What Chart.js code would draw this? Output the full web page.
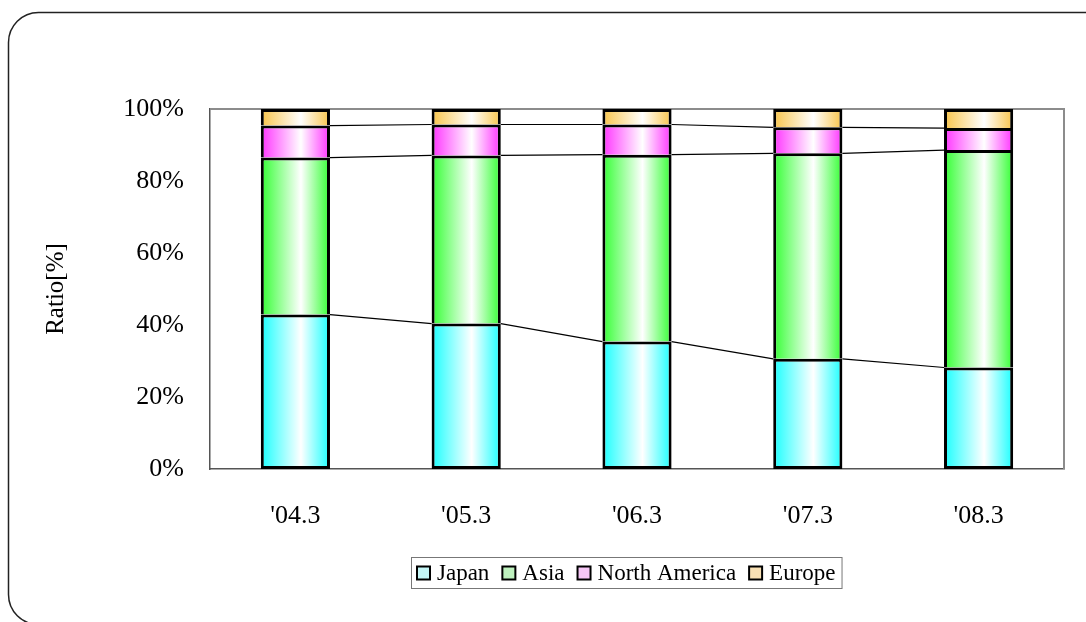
<!DOCTYPE html>
<html>
<head>
<meta charset="utf-8">
<script src="https://cdn.jsdelivr.net/npm/chart.js@4.4.1/dist/chart.umd.min.js"></script>
<style>
  html, body { margin: 0; padding: 0; background: #fff; }
  #wrap { position: relative; width: 1086px; height: 622px; }
</style>
</head>
<body>
<div id="wrap"><canvas id="share-chart"></canvas></div>
<script>
const categories = ["'04.3", "'05.3", "'06.3", "'07.3", "'08.3"];
const japan = [42.9, 40.4, 35.4, 30.6, 28.2];
const asia = [43.6, 46.7, 51.9, 57.1, 60.4];
const northAmerica = [8.9, 8.6, 8.4, 7.2, 6.1];
const europe = [4.6, 4.3, 4.3, 5.1, 5.3];
const yTickValues = [0, 20, 40, 60, 80, 100];

const FONT = '"Liberation Serif", "Times New Roman", serif';
const BAR_PCT = 0.405;

// horizontal gradient: colour at the edges, white just right of centre
function barFill(color) {
    return function(ctx) {
        const x = ctx.chart.scales.x;
        if (!x || ctx.dataIndex === undefined || !x.width) return color;
        const cx = x.getPixelForValue(ctx.dataIndex);
        const half = x.width / categories.length * BAR_PCT / 2;
        const g = ctx.chart.ctx.createLinearGradient(cx - half, 0, cx + half, 0);
        g.addColorStop(0, color);
        g.addColorStop(0.58, '#ffffff');
        g.addColorStop(1, color);
        return g;
    };
}

const legendItems = [
    { label: 'Japan', fill: '#c4f6f6' },
    { label: 'Asia', fill: '#bff2bf' },
    { label: 'North America', fill: '#f6c6f6' },
    { label: 'Europe', fill: '#f8e0b4' },
];

// outer rounded frame
const framePlugin = {
    id: 'frame',
    beforeDraw(chart) {
        const ctx = chart.ctx;
        ctx.save();
        ctx.fillStyle = '#fff';
        ctx.fillRect(0, 0, chart.width, chart.height);
        ctx.strokeStyle = '#222';
        ctx.lineWidth = 1.5;
        ctx.beginPath();
        ctx.roundRect(8.5, 12.5, 1120, 612, 30);
        ctx.stroke();
        ctx.restore();
    },
    beforeDatasetsDraw(chart) {
        const { left, right, top, bottom } = chart.chartArea;
        const ctx = chart.ctx;
        ctx.save();
        ctx.strokeStyle = '#8c8c8c';
        ctx.lineWidth = 2;
        ctx.beginPath();
        ctx.moveTo(left, top);
        ctx.lineTo(right, top);
        ctx.lineTo(right, bottom);
        ctx.stroke();
        ctx.restore();
    }
};

// series lines joining the segment tops of neighbouring bars
const seriesLines = {
    id: 'seriesLines',
    afterDatasetsDraw(chart) {
        const ctx = chart.ctx;
        ctx.save();
        ctx.strokeStyle = '#000';
        ctx.lineWidth = 1.2;
        for (let d = 0; d < 3; d++) {
            const bars = chart.getDatasetMeta(d).data;
            for (let i = 0; i < bars.length - 1; i++) {
                const a = bars[i], b = bars[i + 1];
                ctx.beginPath();
                ctx.moveTo(a.x + a.width / 2, a.y);
                ctx.lineTo(b.x - b.width / 2, b.y);
                ctx.stroke();
            }
        }
        ctx.restore();
    }
};

// boxed legend under the axis
const boxedLegend = {
    id: 'boxedLegend',
    afterDraw(chart) {
        const ctx = chart.ctx;
        const area = chart.chartArea;
        ctx.save();
        ctx.font = '23px ' + FONT;
        const box = 13, gapText = 7, gapItem = 13, padX = 6;
        let total = padX * 2;
        legendItems.forEach((it, i) => {
            total += box + gapText + ctx.measureText(it.label).width + (i < legendItems.length - 1 ? gapItem : 0);
        });
        const top = area.bottom + 88, h = 31;
        const left = Math.round((area.left + area.right) / 2 - 11 - total / 2);
        ctx.strokeStyle = '#777';
        ctx.lineWidth = 1;
        ctx.strokeRect(left + 0.5, top + 0.5, total, h);
        let x = left + padX;
        const cy = top + h / 2 + 0.5;
        legendItems.forEach(it => {
            ctx.fillStyle = it.fill;
            ctx.fillRect(x, cy - box / 2, box, box);
            ctx.strokeStyle = '#000';
            ctx.lineWidth = 2;
            ctx.strokeRect(x, cy - box / 2, box, box);
            x += box + gapText;
            ctx.fillStyle = '#000';
            ctx.textBaseline = 'middle';
            ctx.fillText(it.label, x, cy + 1);
            x += ctx.measureText(it.label).width + gapItem;
        });
        ctx.restore();
    }
};

function seg(label, values, color, skip) {
    return {
        label: label,
        data: values,
        backgroundColor: barFill(color),
        borderColor: '#000',
        borderWidth: 3,
        borderSkipped: skip,
        categoryPercentage: 1,
        barPercentage: BAR_PCT,
    };
}

new Chart(document.getElementById('share-chart'), {
    type: 'bar',
    data: {
        labels: categories,
        datasets: [
            seg('Japan', japan, '#1affff', false),
            seg('Asia', asia, '#33ff33', 'start'),
            seg('North America', northAmerica, '#ff33ff', 'start'),
            seg('Europe', europe, '#f8c449', 'start'),
        ]
    },
    options: {
        responsive: true,
        maintainAspectRatio: false,
        animation: false,
        layout: { padding: { left: 0, top: 109, right: 22, bottom: 0 } },
        plugins: {
            legend: { display: false },
            tooltip: { enabled: false },
        },
        scales: {
            x: {
                stacked: true,
                grid: { display: false, drawTicks: false },
                border: { display: true, color: '#555', width: 1.5 },
                ticks: { color: '#000', font: { family: FONT, size: 26 }, padding: 32 },
                afterFit(s) { s.height = 153; }
            },
            y: {
                stacked: true,
                min: 0,
                max: 100,
                afterBuildTicks(s) { s.ticks = yTickValues.map(v => ({ value: v })); },
                grid: { display: false, drawTicks: false },
                border: { display: true, color: '#555', width: 1.5 },
                ticks: { color: '#000', font: { family: FONT, size: 26 }, padding: 26, callback: v => v + '%' },
                title: { display: true, text: 'Ratio[%]', color: '#000', font: { family: FONT, size: 25 }, padding: { top: 41, bottom: 0 } },
                afterFit(s) { s.width = 210; }
            }
        }
    },
    plugins: [framePlugin, seriesLines, boxedLegend]
});
</script>
</body>
</html>
